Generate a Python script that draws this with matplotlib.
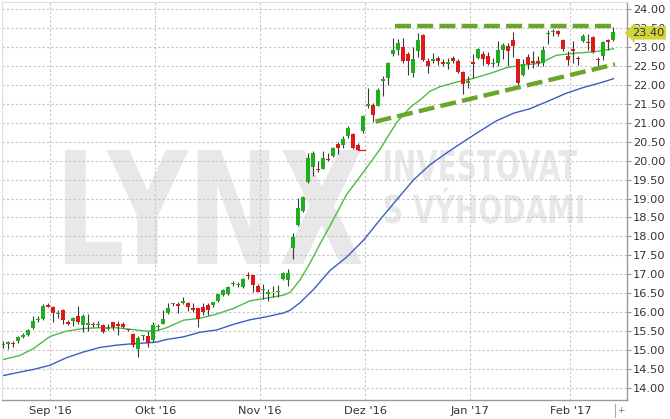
import matplotlib
matplotlib.use("Agg")
import matplotlib.pyplot as plt
from matplotlib.textpath import TextPath
from matplotlib.patches import PathPatch
from matplotlib.font_manager import FontProperties
from matplotlib.transforms import Affine2D, blended_transform_factory
from matplotlib.lines import Line2D

W, H = 670, 419

# daily candles, index 0 = first trading day shown (late Aug 2016)
opens = [15.13, 15.16, 15.20, 15.25, 15.35, 15.40, 15.58, 15.80, 15.82, 16.20,
         16.15, 15.95, 16.06, 15.73, 15.76, 15.90, 15.65, 15.65, 15.69, 15.65,
         15.66, 15.55, 15.73, 15.69, 15.68, 15.54, 15.42, 15.04, 15.36, 15.37,
         15.26, 15.60, 15.70, 15.98, 16.22, 16.21, 16.23, 16.25, 16.10, 16.10,
         16.14, 16.18, 16.20, 16.30, 16.45, 16.48, 16.74, 16.72, 16.66, 16.97,
         16.97, 16.70, 16.58, 16.49, 16.50, 16.52, 16.88, 16.84, 17.69, 18.29,
         18.67, 19.44, 19.83, 19.79, 19.79, 20.05, 20.12, 20.45, 20.42, 20.64,
         20.69, 20.40, 20.78, 21.43, 21.48, 21.45, 22.09, 22.18, 22.80, 22.93,
         23.00, 22.80, 22.31, 22.88, 23.31, 22.62, 22.64, 22.71, 22.60, 22.54,
         22.71, 22.62, 22.33, 22.05, 22.60, 22.71, 22.82, 22.77, 22.54, 22.58,
         22.93, 23.02, 23.19, 22.67, 22.27, 22.74, 22.62, 22.62, 22.58, 23.34,
         23.40, 23.41, 23.18, 22.77, 22.95, 22.71, 23.15, 23.13, 23.26, 22.68,
         22.75, 23.18, 23.18]
highs = [15.23, 15.25, 15.23, 15.38, 15.44, 15.56, 15.90, 15.90, 16.21, 16.24,
         16.17, 16.05, 16.09, 15.79, 15.87, 16.17, 15.95, 15.95, 15.73, 15.78,
         15.69, 15.69, 15.75, 15.78, 15.73, 15.56, 15.44, 15.37, 15.40, 15.51,
         15.75, 15.70, 16.07, 16.23, 16.25, 16.27, 16.40, 16.27, 16.23, 16.10,
         16.23, 16.23, 16.27, 16.49, 16.62, 16.68, 16.82, 16.79, 16.90, 17.07,
         16.99, 16.74, 16.74, 16.61, 16.69, 16.73, 17.06, 17.14, 18.08, 19.02,
         19.07, 20.21, 20.25, 19.99, 20.25, 20.21, 20.36, 20.48, 20.64, 20.90,
         20.73, 20.47, 21.21, 21.91, 21.52, 21.92, 22.23, 22.60, 23.24, 23.20,
         23.24, 22.86, 23.01, 23.37, 23.34, 22.70, 22.84, 22.75, 22.67, 22.71,
         22.77, 22.67, 22.36, 22.24, 22.80, 22.98, 22.89, 22.86, 22.71, 23.15,
         23.09, 23.09, 23.38, 22.69, 22.69, 22.80, 22.88, 22.75, 23.02, 23.45,
         23.47, 23.45, 23.20, 22.89, 23.15, 22.75, 23.35, 23.35, 23.28, 22.74,
         23.15, 23.22, 23.53]
lows = [15.06, 15.03, 15.09, 15.20, 15.32, 15.38, 15.56, 15.74, 15.80, 16.13,
        15.74, 15.86, 15.69, 15.65, 15.63, 15.69, 15.47, 15.51, 15.60, 15.62,
        15.45, 15.52, 15.53, 15.39, 15.58, 15.50, 15.07, 14.82, 15.27, 15.07,
        15.22, 15.53, 15.68, 15.96, 16.16, 15.98, 16.21, 16.02, 16.01, 15.61,
        15.93, 15.93, 16.14, 16.28, 16.43, 16.46, 16.68, 16.66, 16.64, 16.87,
        16.52, 16.52, 16.34, 16.30, 16.39, 16.39, 16.86, 16.70, 17.41, 18.27,
        18.65, 19.42, 19.60, 19.70, 19.77, 19.98, 20.10, 20.18, 20.34, 20.60,
        20.30, 20.27, 20.72, 21.40, 21.01, 21.43, 21.70, 22.00, 22.75, 22.78,
        22.57, 22.27, 22.21, 22.74, 22.62, 22.30, 22.57, 22.53, 22.50, 22.41,
        22.58, 22.31, 21.77, 21.92, 22.18, 22.68, 22.52, 22.51, 22.48, 22.49,
        22.69, 22.50, 22.74, 21.98, 22.23, 22.41, 22.45, 22.49, 22.49, 23.07,
        23.28, 23.30, 22.88, 22.51, 22.57, 22.52, 23.13, 22.93, 22.84, 22.50,
        22.66, 22.93, 23.15]
closes = [15.16, 15.22, 15.16, 15.35, 15.40, 15.53, 15.78, 15.82, 16.17, 16.15,
          15.97, 15.99, 15.80, 15.69, 15.85, 15.73, 15.91, 15.71, 15.65, 15.69,
          15.47, 15.58, 15.60, 15.64, 15.62, 15.52, 15.13, 15.31, 15.38, 15.19,
          15.65, 15.62, 15.81, 16.11, 16.24, 16.17, 16.30, 16.14, 16.05, 15.83,
          16.01, 16.07, 16.26, 16.47, 16.58, 16.66, 16.76, 16.74, 16.88, 16.95,
          16.72, 16.54, 16.60, 16.51, 16.50, 16.55, 17.04, 17.03, 17.99, 18.76,
          19.04, 20.08, 20.19, 19.75, 20.08, 20.01, 20.34, 20.32, 20.57, 20.86,
          20.34, 20.29, 21.17, 21.50, 21.21, 21.86, 22.16, 22.58, 22.93, 23.09,
          22.62, 22.62, 22.67, 23.17, 22.65, 22.49, 22.69, 22.62, 22.55, 22.60,
          22.62, 22.33, 22.01, 22.11, 22.55, 22.95, 22.68, 22.54, 22.58, 22.93,
          23.06, 22.89, 23.02, 22.05, 22.54, 22.54, 22.58, 22.58, 22.93, 23.36,
          23.42, 23.35, 22.95, 22.65, 22.89, 22.68, 23.28, 23.11, 22.86, 22.65,
          23.12, 23.12, 23.40]

# moving averages (index, price)
ma_fast_idx = [-0.6, 3.4, 6.1, 9.4, 12.7, 16.1, 19.4, 22.7, 26.1, 28.7, 30.7, 32.7,
               36.1, 39.4, 42.7, 46.1, 49.4, 52.7, 56.1, 57.4, 59.4, 61.4, 63.4,
               65.4, 68.7, 72.1, 75.4, 78.7, 81.4, 83.4, 85.4, 87.4, 90.7, 94.1,
               97.4, 100.7, 103.4, 107.4, 110.7, 114.1, 118.1, 122.1]
ma_fast = [14.73, 14.86, 15.04, 15.36, 15.50, 15.57, 15.59, 15.59, 15.54, 15.50,
           15.51, 15.59, 15.79, 15.84, 15.95, 16.10, 16.30, 16.37, 16.45, 16.52,
           16.85, 17.30, 17.80, 18.28, 19.10, 19.70, 20.30, 21.00, 21.40, 21.60,
           21.83, 21.95, 22.07, 22.17, 22.30, 22.45, 22.51, 22.57, 22.78, 22.83,
           22.87, 22.95]
ma_slow_idx = [-0.6, 3.4, 6.1, 9.4, 12.7, 16.1, 19.4, 22.7, 26.1, 28.7, 30.7, 32.7,
               36.1, 39.4, 42.7, 46.1, 49.4, 52.7, 56.1, 57.4, 59.4, 62.1, 65.4,
               68.7, 72.1, 75.4, 78.7, 82.1, 85.4, 88.7, 92.1, 95.4, 98.7, 102.1,
               105.4, 108.7, 112.7, 116.1, 119.4, 122.1]
ma_slow = [14.31, 14.42, 14.49, 14.60, 14.80, 14.95, 15.07, 15.13, 15.17, 15.19,
           15.21, 15.28, 15.35, 15.47, 15.53, 15.68, 15.80, 15.88, 15.98, 16.05,
           16.25, 16.60, 17.10, 17.45, 17.90, 18.44, 18.96, 19.49, 19.89, 20.20,
           20.50, 20.78, 21.05, 21.25, 21.37, 21.55, 21.78, 21.93, 22.05, 22.16]

# hand drawn trend lines (index, price)
trend_top_idx = [78.4, 122.4]
trend_top = [23.55, 23.55]
trend_low_idx = [74.5, 122.4]
trend_low = [21.03, 22.54]

month_labels = ["Sep '16", "Okt '16", "Nov '16", "Dez '16", "Jan '17", "Feb '17"]
month_start = [9, 30, 51, 72, 93, 113]
yticks = [14 + 0.5 * k for k in range(21)]
last_price = 23.40


def px(x, y):
    return x / W, 1 - y / H


def watermark(fig, text, x0, ytop, x1, ybase):
    '''stretch bold text so its caps fill the pixel box'''
    prop = FontProperties(family='DejaVu Sans', weight='bold')
    tp = TextPath((0, 0), text, size=1, prop=prop)
    cap = TextPath((0, 0), "H", size=1, prop=prop).get_extents()
    ext = tp.get_extents()
    fx0, fy1 = px(x0, ytop)
    fx1, fy0 = px(x1, ybase)
    tr = (Affine2D().translate(-ext.x0, 0)
          .scale((fx1 - fx0) / ext.width, (fy1 - fy0) / cap.y1)
          .translate(fx0, fy0) + fig.transFigure)
    p = PathPatch(tp, transform=tr, fc='#e8e8e8', ec='none', zorder=0.2, clip_on=False)
    fig.axes[0].add_artist(p)


fig = plt.figure(figsize=(W / 100, H / 100), dpi=100)
ax = fig.add_axes([2 / W, 1 - 400 / H, 625 / W, 398 / H])
ax.set_xlim(-0.2, 124.8)
ax.set_ylim(24 - 391 / 37.9, 24 + 7 / 37.9)

watermark(fig, "LYNX", 65, 150, 362, 264)
watermark(fig, "INVESTOVAT", 385, 150, 577, 180)
watermark(fig, "S VÝHODAMI", 385, 195, 583, 223)

grid_kw = dict(color='#c4c4c4', lw=0.8, ls=(0, (2, 2)), zorder=1)
for t in yticks:
    ax.axhline(t, **grid_kw)
for m in month_start:
    ax.axvline(m + 0.45, **grid_kw)

ax.plot(ma_slow_idx, ma_slow, color='#3a5fc4', lw=1.0, zorder=2)
ax.plot(ma_fast_idx, ma_fast, color='#4cbb47', lw=1.0, zorder=2)

idx = list(range(len(opens)))
bottoms, heights, colors = [], [], []
for o, c in zip(opens, closes):
    bottoms.append(min(o, c))
    heights.append(max(abs(c - o), 0.03))
    if c > o:
        colors.append('#1fae1f')
    elif c < o:
        colors.append('#e01818')
    else:
        colors.append('#f2e600')
ax.vlines(idx, lows, highs, color='#3a3a3a', lw=0.8, zorder=3)
ax.bar(idx, heights, bottom=bottoms, width=0.62, color=colors, zorder=4)
# small red marker after candle 71
ax.plot([71, 72.4], [lows[71], lows[71]], color='#e01818', lw=0.9, zorder=4)

dash_kw = dict(color='#6aa62c', lw=3.2, dashes=(3.6, 1.4), solid_capstyle='butt', zorder=5)
ax.plot(trend_top_idx, trend_top, **dash_kw)
ax.plot(trend_low_idx, trend_low, **dash_kw)

ax.yaxis.tick_right()
ax.set_yticks(yticks)
ax.set_yticklabels(['%.2f' % t for t in yticks])
ax.tick_params(axis='y', direction='out', length=3, width=0.8, color='#999999',
               pad=1.5, labelsize=8.2, labelcolor='#333333')
ax.set_xticks([m + 0.45 for m in month_start])
ax.set_xticklabels(month_labels)
ax.tick_params(axis='x', length=0, pad=4, labelsize=8.2, labelcolor='#333333')

for s in ['left', 'top']:
    ax.spines[s].set_color('#dddddd')
for s in ['right', 'bottom']:
    ax.spines[s].set_color('#999999')
ax.spines['right'].set_linewidth(1.0)
ax.spines['bottom'].set_linewidth(1.0)

trans = blended_transform_factory(ax.transAxes, ax.transData)
ax.annotate('%.2f' % last_price, xy=(1, last_price - 0.03), xycoords=trans,
            xytext=(3.5, 0), textcoords='offset points', ha='left', va='center',
            fontsize=8.2, color='#333333', zorder=10, annotation_clip=False,
            bbox=dict(boxstyle='larrow,pad=0.15', fc='#d2d43a', ec='none'))

fig.add_artist(Line2D([615 / W, 615 / W], [1 - 404 / H, 1 - 417 / H],
                      color='#aaaaaa', lw=0.8))
fig.text(620.5 / W, 1 - 410 / H, '+', fontsize=6.5, color='#777777',
         ha='center', va='center')

fig.savefig('out.png', dpi=100)
